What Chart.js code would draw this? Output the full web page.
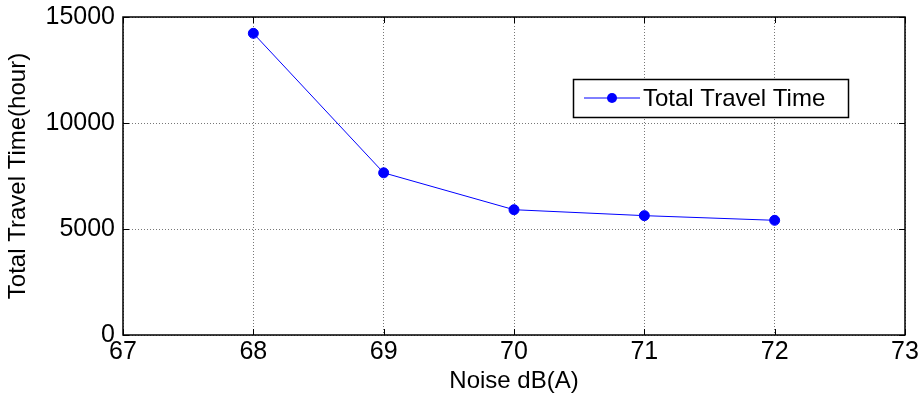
<!DOCTYPE html>
<html>
<head>
<meta charset="utf-8">
<script src="https://cdn.jsdelivr.net/npm/chart.js@4.4.0/dist/chart.umd.min.js"></script>
<style>
  html, body { margin:0; padding:0; background:#fff; }
  #wrap { width:922px; height:400px; }
</style>
</head>
<body>
<div id="wrap"><canvas id="chart" width="922" height="400"></canvas></div>
<script>
// data
const noise = [68, 69, 70, 71, 72];
const travelTime = [14230, 7650, 5910, 5630, 5410];
const seriesLabel = "Total Travel Time";
const xTitle = "Noise dB(A)";
const yTitle = "Total Travel Time(hour)";

const FONT = "'Liberation Sans', Arial, sans-serif";

// box around plot + matlab style inner ticks + legend
const boxPlugin = {
    id: "box",
    afterDraw(chart){
        const {ctx, chartArea:ca, scales} = chart;
        ctx.save();
        ctx.strokeStyle = "#000";
        ctx.lineWidth = 1.5;
        ctx.strokeRect(ca.left, ca.top, ca.right-ca.left, ca.bottom-ca.top);
        ctx.lineWidth = 1;
        const xs = scales.x, ys = scales.y;
        xs.ticks.forEach(t=>{
            const px = Math.round(xs.getPixelForValue(t.value))+0.5;
            ctx.beginPath();
            ctx.moveTo(px, ca.bottom); ctx.lineTo(px, ca.bottom-6);
            ctx.moveTo(px, ca.top); ctx.lineTo(px, ca.top+6);
            ctx.stroke();
        });
        ys.ticks.forEach(t=>{
            const py = Math.round(ys.getPixelForValue(t.value))+0.5;
            ctx.beginPath();
            ctx.moveTo(ca.left, py); ctx.lineTo(ca.left+6, py);
            ctx.moveTo(ca.right, py); ctx.lineTo(ca.right-6, py);
            ctx.stroke();
        });

        // legend box
        const ds = chart.data.datasets[0];
        const lx = 573, ly = 79, lw = 275, lh = 38;
        ctx.fillStyle = "#fff";
        ctx.fillRect(lx, ly, lw, lh);
        ctx.strokeStyle = "#000";
        ctx.lineWidth = 1.5;
        ctx.strokeRect(lx+0.5, ly+0.5, lw, lh);
        const cy = ly + lh/2;
        ctx.strokeStyle = ds.borderColor;
        ctx.lineWidth = 1;
        ctx.beginPath();
        ctx.moveTo(lx+11, cy); ctx.lineTo(lx+67, cy);
        ctx.stroke();
        ctx.fillStyle = ds.pointBackgroundColor;
        ctx.beginPath();
        ctx.arc(lx+39, cy, 5, 0, Math.PI*2);
        ctx.fill();
        ctx.fillStyle = "#000";
        ctx.font = "24px " + FONT;
        ctx.textBaseline = "middle";
        ctx.textAlign = "left";
        ctx.fillText(ds.label, lx+70, cy+1);
        ctx.restore();
    }
};

new Chart(document.getElementById("chart"), {
    type: "line",
    data: {
        datasets: [{
            label: seriesLabel,
            data: noise.map((x,i)=>({x, y: travelTime[i]})),
            borderColor: "#0000ff",
            backgroundColor: "#0000ff",
            pointBackgroundColor: "#0000ff",
            pointBorderColor: "#0000ff",
            pointRadius: 5,
            borderWidth: 1,
            tension: 0
        }]
    },
    options: {
        responsive: false,
        animation: false,
        layout: {padding: {top: 17, right: 17, left: 0, bottom: 0}},
        plugins: {legend: {display: false}, tooltip: {enabled: false}},
        scales: {
            x: {
                type: "linear",
                min: 67, max: 73,
                ticks: {stepSize: 1, color: "#000", font: {family: FONT, size: 25}, padding: 2,
                    callback: v => String(v)},
                grid: {color: "#777", lineWidth: 1, drawTicks: false},
                border: {display: false, dash: [1, 2]},
                title: {display: true, text: xTitle, color: "#000", font: {family: FONT, size: 24}, padding: {top: 0}},
                afterFit(s){ s.height = 65; s.paddingLeft = 0; s.paddingRight = 0; }
            },
            y: {
                min: 0, max: 15000,
                ticks: {stepSize: 5000, color: "#000", font: {family: FONT, size: 25}, padding: 8,
                    callback: v => String(v)},
                grid: {color: "#777", lineWidth: 1, drawTicks: false},
                border: {display: false, dash: [1, 2]},
                title: {display: true, text: yTitle, color: "#000", font: {family: FONT, size: 24}, padding: {bottom: 0}},
                afterFit(s){ s.width = 123; s.paddingTop = 0; s.paddingBottom = 0; }
            }
        }
    },
    plugins: [boxPlugin]
});
</script>
</body>
</html>
